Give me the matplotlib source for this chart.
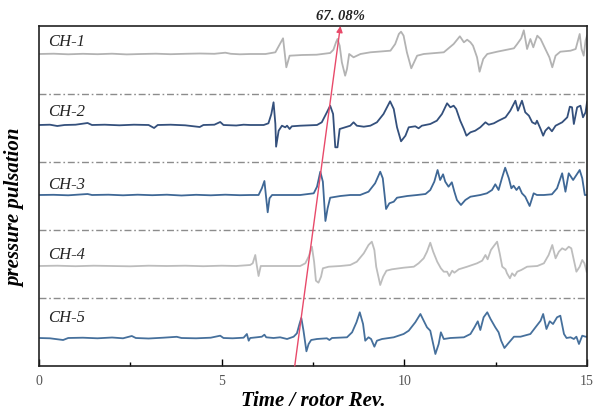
import matplotlib
matplotlib.use("Agg")
import matplotlib.pyplot as plt

plt.rcParams['font.family'] = ['Liberation Serif', 'DejaVu Serif']

# ---------------- data (time in rotor revolutions, pulsation in arbitrary units) -------------
channels = ["CH-1", "CH-2", "CH-3", "CH-4", "CH-5"]
offsets = [312, 241, 171, 100, 28]
label_y = [325, 255, 182, 112, 49]
separators = [68, 136, 204, 272]

t_ch1 = [0, 0.4, 0.8, 1.2, 1.6, 2.0, 2.4, 2.8, 3.2, 3.6, 4.0, 4.4, 4.8, 5.1, 5.25, 5.5, 5.78, 6.2,
         6.47, 6.68, 6.77, 6.86, 7.2, 7.6, 7.97, 8.06, 8.13, 8.17, 8.23, 8.29, 8.38, 8.43, 8.49,
         8.61, 8.80, 9.07, 9.62, 9.75, 9.85, 9.91, 9.98, 10.07, 10.19, 10.35, 10.53, 11.08, 11.35,
         11.52, 11.63, 11.72, 11.81, 11.88, 11.99, 12.06, 12.16, 12.27, 12.54, 12.81, 13.00, 13.09,
         13.20, 13.27, 13.36, 13.45, 13.53, 13.59, 13.64, 13.73, 13.86, 13.97, 14.05, 14.14, 14.27,
         14.55, 14.69, 14.80, 14.85, 14.91, 14.96, 15.0]
p_ch1 = [0, 0.3, -0.3, 0.2, -0.2, 0.3, -0.4, 0, 0.3, -0.2, 0.2, 0.5, 0.2, 1.3, 0.2, -0.3, 0, 0,
         1.7, 15.7, -13.3, -1.7, -1.0, -0.7, 1.0, 4.3, 11.7, 15.0, 8.3, -8.3, -21.7, -15.0, 0,
         -3.3, 0, 1.7, 3.3, 10.0, 20.0, 22.3, 18.3, 1.7, -14.3, -1.7, 0, 1.7, 10.0,
         17.7, 11.7, 14.3, 11.7, 8.3, -3.3, -17.7, -5.0, 0, 2.3, 4.3, 5.7, 10.0,
         15.7, 23.7, 5.0, 15.0, 6.7, 13.3, 18.3, 15.0, 5.0, -3.3, -13.3, -1.7, 2.3,
         3.3, 5.0, 20.0, 5.0, -1.7, 13.3, 18.3]

t_ch2 = [0, 0.3, 0.5, 0.7, 1.0, 1.33, 1.45, 1.8, 2.2, 2.6, 3.0, 3.15, 3.25, 3.6, 4.0, 4.4, 4.5,
         4.8, 4.96, 5.05, 5.4, 5.6, 5.78, 6.15, 6.28, 6.36, 6.42, 6.47, 6.49, 6.56, 6.65, 6.74,
         6.79, 6.86, 6.92, 7.15, 7.61, 7.74, 7.88, 7.97, 8.05, 8.11, 8.17, 8.23, 8.38, 8.52, 8.61,
         8.70, 8.89, 9.07, 9.25, 9.43, 9.61, 9.71, 9.80, 9.91, 10.03, 10.12, 10.30, 10.39, 10.48,
         10.71, 10.89, 11.03, 11.17, 11.26, 11.35, 11.42, 11.53, 11.63, 11.70, 11.81, 11.94,
         12.08, 12.22, 12.31, 12.45, 12.58, 12.77, 12.90, 13.04, 13.11, 13.22, 13.31, 13.41,
         13.50, 13.59, 13.63, 13.73, 13.80, 13.86, 13.95, 14.04, 14.14, 14.32, 14.46, 14.53,
         14.59, 14.64, 14.73, 14.82, 14.89, 14.96, 15.0]
p_ch2 = [0, 0.3, -1.0, 0, 0.3, 2.0, 0, 0.3, -0.3, 0.3, 0, -3.0, 0, 0.3, -0.3, -2.0, 0,
         0.3, 3.0, 0, -0.5, 0.3, 0, 0, 1.7, 11.0, 22.7, 1.0, -21.7, -5.7, -0.7, -2.3,
         -0.7, -4.0, -1.3, -0.7, 0, 2.7, 12.7, 19.3, 11.0, -22.3, -22.3, -4.0, -2.3, -0.7, 2.7,
         -0.7, -1.7, -0.7, 2.7, 11.0, 23.7, 16.0, -2.3, -16.3, -10.7, -2.3, -1.3, -3.3, -0.7,
         1.0, 4.3, 11.0, 21.7, 17.7, 19.3, 16.0, 4.3, -4.0, -10.7, -7.3, -5.7,
         -2.3, 2.7, 0.3, 1.7, 4.3, 7.7, 14.3, 24.3, 14.3, 24.3, 12.7, 9.3,
         2.7, 1.0, 4.3, -4.0, -10.7, -5.7, -2.3, -6.3, -0.7, 2.7, 7.7, 18.3,
         17.7, 1.0, 17.7, 19.3, 7.7, 12.7, 22.7]

t_ch3 = [0, 0.4, 0.8, 1.33, 1.45, 1.9, 2.3, 2.7, 3.1, 3.5, 3.9, 4.3, 4.7, 5.1, 5.5, 5.78, 6.01,
         6.10, 6.17, 6.21, 6.26, 6.31, 6.38, 6.69, 7.15, 7.52, 7.61, 7.70, 7.77, 7.84, 7.90, 7.97,
         8.25, 8.52, 8.79, 9.02, 9.20, 9.34, 9.41, 9.46, 9.50, 9.59, 9.71, 9.80, 10.08, 10.35,
         10.58, 10.71, 10.82, 10.91, 10.98, 11.06, 11.12, 11.21, 11.30, 11.37, 11.44, 11.55,
         11.67, 11.81, 12.08, 12.26, 12.40, 12.49, 12.58, 12.67, 12.76, 12.86, 12.93, 12.99,
         13.07, 13.14, 13.22, 13.31, 13.43, 13.54, 13.63, 13.82, 14.04, 14.18, 14.32, 14.41,
         14.50, 14.62, 14.71, 14.80, 14.87, 14.94, 15.0]
p_ch3 = [0, 0.2, -0.3, 1.0, 0, 0.3, -0.3, 0.3, -0.2, 0.3, -0.5, 0.2, -0.3, 0.3, -0.2, 0, 0,
         6.7, 14.0, 0, -17.3, -3.3, 0, 0, 0, 1.7, 8.3, 23.3, 13.3, -26.0, -13.3, -2.7,
         -1.0, 0, 0, 3.3, 11.7, 23.3, 16.7, 0, -14.0, -8.3, -6.7, -2.7, -1.0, 0,
         1.0, 5.0, 13.3, 25.0, 15.0, 20.7, 13.3, 8.3, 12.7, 3.3, -5.0, -10.0,
         -5.0, -1.7, 0, 1.7, 5.0, 10.7, 5.0, 16.7, 27.3, 16.7, 6.7, 9.3,
         5.0, 8.3, 1.7, -1.7, -11.0, 1.7, 0, 0, 0.7, 6.7, 21.7, 3.3,
         21.7, 15.0, 20.0, 25.0, 16.7, 0, 0]

t_ch4 = [0, 0.5, 1.0, 1.5, 2.0, 2.5, 3.0, 3.5, 4.0, 4.5, 5.0, 5.4, 5.78, 5.85, 5.92, 5.96, 6.01,
         6.07, 6.33, 6.69, 7.15, 7.29, 7.38, 7.47, 7.53, 7.58, 7.65, 7.72, 7.77, 7.93, 8.25, 8.52,
         8.70, 8.89, 9.02, 9.11, 9.18, 9.23, 9.34, 9.42, 9.51, 9.66, 9.98, 10.26, 10.39, 10.53,
         10.62, 10.71, 10.79, 10.90, 11.00, 11.08, 11.17, 11.23, 11.31, 11.37, 11.49, 11.72,
         11.99, 12.13, 12.22, 12.28, 12.37, 12.45, 12.54, 12.61, 12.68, 12.77, 12.81, 12.89,
         12.95, 13.02, 13.09, 13.20, 13.36, 13.64, 13.82, 13.95, 14.05, 14.14, 14.23, 14.32,
         14.41, 14.50, 14.57, 14.64, 14.71, 14.80, 14.87, 14.93, 14.99]
p_ch4 = [0, 0.3, -0.2, 0.3, 0, -0.3, 0.3, 0, 0.3, -0.2, 0.3, 0, 1.0, 2.7, 11.0, 1.0, -10.0,
         0, 0, 0, 0, 2.7, 9.3, 19.3, 4.3, -14.7, -16.7, -10.7, -2.3, -0.7, 0, 1.0,
         4.3, 12.7, 21.0, 24.3, 16.0, -0.7, -19.0, -10.7, -4.7, -3.3, -1.7, -0.7, 2.7, 7.7,
         14.3, 23.3, 14.3, 4.3, -2.3, -5.7, -5.7, -10.0, -4.7, -6.7, -3.3, -0.7,
         2.7, 5.3, 11.0, 6.7, 16.0, 20.0, 24.3, 12.7, -0.7, -3.3, -7.3, -12.3,
         -7.3, -10.0, -5.7, -4.0, -0.7, 0, 2.7, 11.0, 21.0, 7.7, 14.3, 17.7,
         16.0, 19.3, 17.7, 6.0, -5.7, -0.7, 6.0, 2.7, -5.7]

t_ch5 = [0, 0.3, 0.66, 0.8, 1.2, 1.6, 2.0, 2.3, 2.54, 2.65, 3.0, 3.4, 3.77, 3.9, 4.3, 4.7, 4.96,
         5.05, 5.3, 5.6, 5.69, 5.74, 5.78, 5.96, 6.10, 6.17, 6.22, 6.42, 6.60, 6.79, 6.97, 7.06,
         7.13, 7.18, 7.24, 7.32, 7.38, 7.45, 7.61, 7.88, 7.95, 8.02, 8.43, 8.57, 8.69, 8.78, 8.87,
         8.93, 9.02, 9.09, 9.18, 9.25, 9.39, 9.71, 9.98, 10.12, 10.30, 10.44, 10.53, 10.62,
         10.71, 10.79, 10.85, 10.94, 11.00, 11.08, 11.26, 11.63, 11.81, 11.92, 12.01, 12.08,
         12.17, 12.27, 12.36, 12.49, 12.58, 12.65, 12.74, 12.83, 13.00, 13.18, 13.45, 13.59,
         13.73, 13.80, 13.89, 13.98, 14.07, 14.18, 14.27, 14.37, 14.44, 14.55, 14.64, 14.71,
         14.78, 14.87, 14.96, 15.0]
p_ch5 = [0, -0.3, -2.0, 0, 0.3, -0.3, 0.5, -0.3, 2.0, 0, -0.5, 0.3, 1.2, 0, -0.3, 0.3, 2.3,
         0, -0.3, 0.3, 4.0, -2.7, 0, 0.7, 1.3, 3.3, 0.7, 0, 0.7, -1.0, 1.3, 4.7,
         14.0, 20.0, 7.3, -13.3, -6.0, -2.0, -1.0, -0.3, -2.0, 0, 0.7, 5.7, 15.7, 25.7, 14.0,
         -2.7, 0.7, -1.0, -8.7, -2.7, -1.0, 0.7, 4.0, 7.3, 15.7, 24.0, 17.3, 10.7,
         7.3, -6.0, -16.0, -6.0, 5.7, -1.0, 0, 0.7, 4.0, 10.7, 16.7, 8.0,
         20.7, 25.7, 19.0, 10.7, 5.7, -2.7, -10.0, -6.0, 1.3, 1.3, 4.0, 10.7,
         17.3, 24.0, 9.0, 16.7, 14.0, 20.7, 22.3, 4.0, 0, 0.7, -1.0, 1.3,
         -6.0, 2.3, 1.3, 1.3]

times = [t_ch1, t_ch2, t_ch3, t_ch4, t_ch5]
values = [p_ch1, p_ch2, p_ch3, p_ch4, p_ch5]
colors = ["#b3b3b3", "#34507c", "#3f6896", "#bdbdbd", "#46709c"]

x_ticks = [0, 5, 10, 15]
x_minor = [2.5, 7.5, 12.5]
trend_t = [7.0, 8.25]
trend_y = [0, 340]
trend_text = "67. 08%"

# ---------------- figure -------------------------------------------------------
fig = plt.figure(figsize=(5.93, 4.14), dpi=100)
ax = fig.add_axes([39 / 593, 47 / 414, 548 / 593, 340 / 414])

for sep in separators:
    ax.axhline(sep, color="#8c8c8c", lw=1.0, linestyle=(0, (5, 2, 1.2, 2)), zorder=1)

for name, t, v, off, ly, c in zip(channels, times, values, offsets, label_y, colors):
    ax.plot(t, [off + p for p in v], color=c, lw=1.3, zorder=2)
    ax.text(0.25, ly, name, fontsize=12, style="italic", color="#222222",
            ha="left", va="center", zorder=3)

ax.annotate("", xy=(trend_t[1], trend_y[1]), xytext=(trend_t[0], trend_y[0]),
            arrowprops=dict(arrowstyle="-|>", color="#e84a6a", lw=1.0, mutation_scale=9,
                            shrinkA=0, shrinkB=0),
            annotation_clip=False, zorder=4)
ax.text(trend_t[1], trend_y[1] + 10, trend_text, fontsize=10.5, style="italic",
        fontweight="bold", color="#222222", ha="center", va="center")

ax.set_xlim(0, 15)
ax.set_ylim(0, 340)
ax.set_xticks(x_ticks)
ax.set_xticks(x_minor, minor=True)
ax.set_yticks([])
ax.tick_params(axis="x", which="major", direction="in", length=5, width=1.0,
               labelsize=10, labelcolor="#555555", pad=6)
ax.tick_params(axis="x", which="minor", direction="in", length=3, width=1.0)
for s in ax.spines.values():
    s.set_linewidth(1.2)
    s.set_color("#222222")

fig.text(313 / 593, 1 - 401 / 414, "Time / rotor Rev.", fontsize=15, style="italic",
         fontweight="bold", ha="center", va="center")
fig.text(15 / 593, 1 - 208 / 414, "pressure pulsation", fontsize=15, style="italic",
         fontweight="bold", rotation=90, ha="center", va="center")

fig.savefig("out.png", dpi=100)
